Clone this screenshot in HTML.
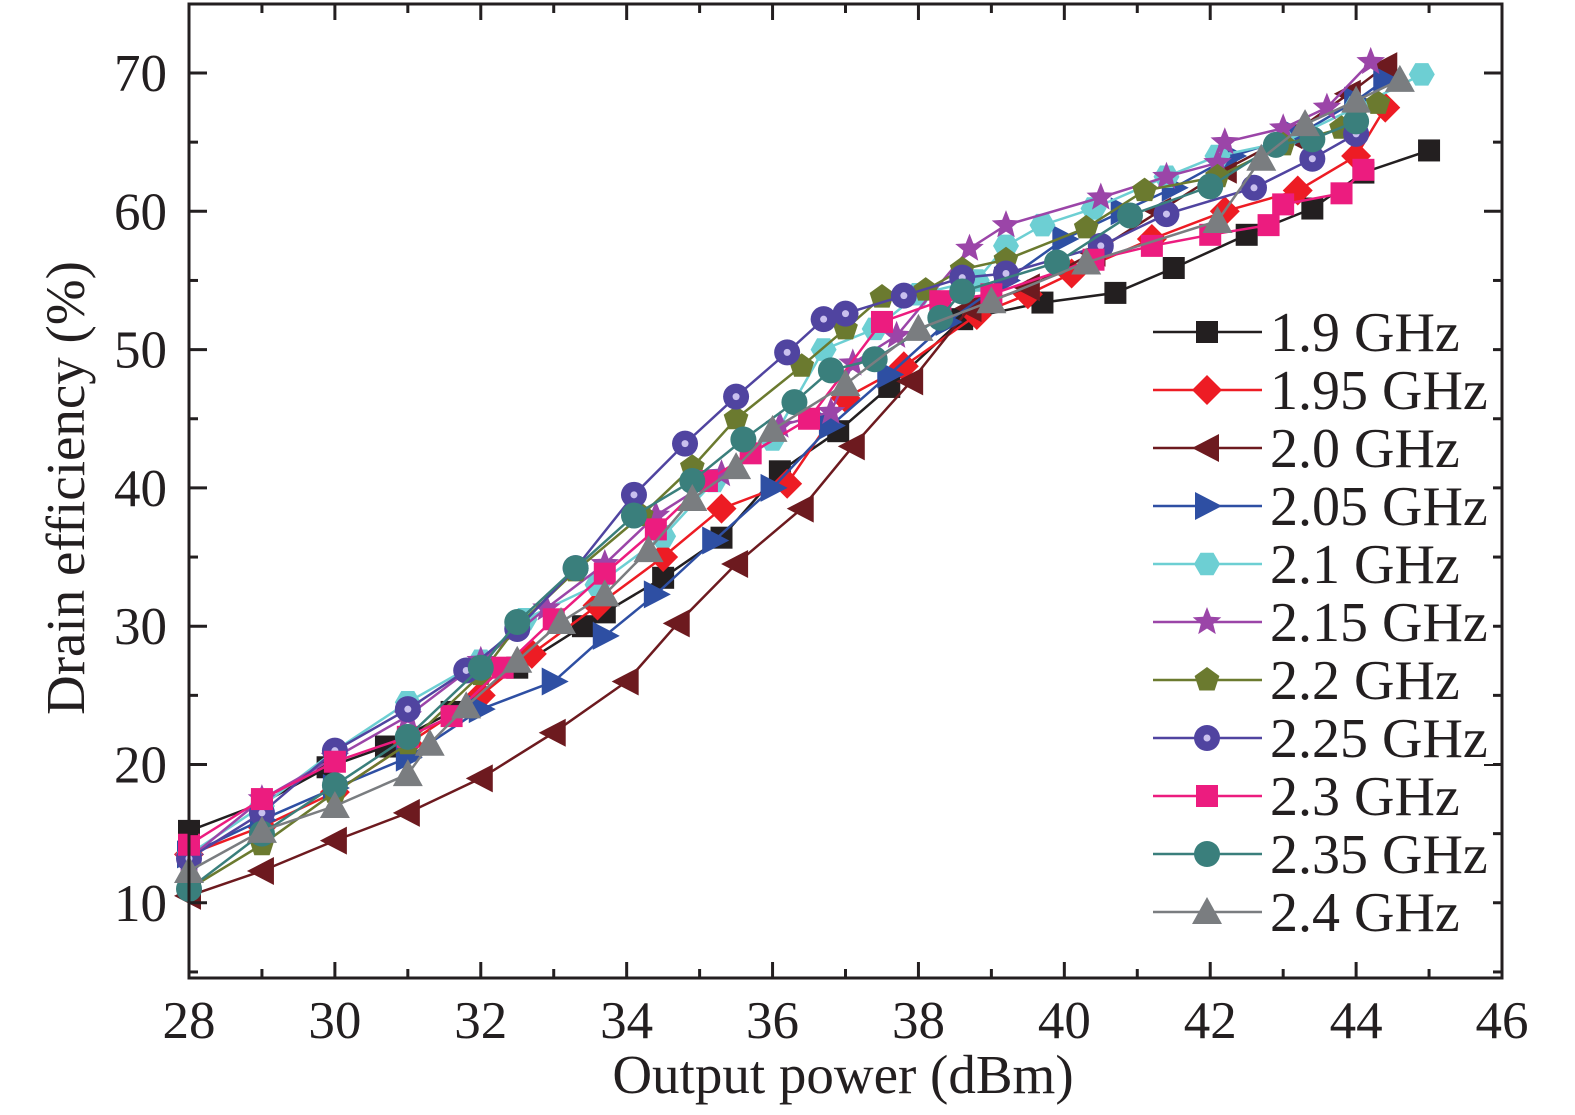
<!DOCTYPE html>
<html><head><meta charset="utf-8"><style>
html,body{margin:0;padding:0;background:#fff;}
svg{display:block;font-family:"Liberation Serif",serif;}
</style></head><body>
<svg id="chart" width="1575" height="1115" viewBox="0 0 1575 1115" xmlns="http://www.w3.org/2000/svg">
<g id="series"></g>
<g id="axes"></g>
<g id="legend"></g>
<text x="843" y="1093" font-size="55" text-anchor="middle" fill="#231f20">Output power (dBm)</text>
<text transform="translate(84,488) rotate(-90)" font-size="55" text-anchor="middle" fill="#231f20">Drain efficiency (%)</text>
</svg>
<script>
const xTicks = [28,30,32,34,36,38,40,42,44,46];
const yTicks = [10,20,30,40,50,60,70];
const seriesNames = ["1.9 GHz","1.95 GHz","2.0 GHz","2.05 GHz","2.1 GHz","2.15 GHz","2.2 GHz","2.25 GHz","2.3 GHz","2.35 GHz","2.4 GHz"];
const seriesColors = ["#231f20","#ed1c24","#6d1a1f","#2e4fa3","#6dcfd3","#9b45a8","#6b7a2f","#5044a0","#ec1c7f","#3a7f7c","#7a7d80"];
const seriesMarkers = ["square","diamond","tri-left","tri-right","hexagon","star","pentagon","sphere","square","circle","tri-up"];
const x19 = [28,29,29.9,30.7,31.6,32.5,33.4,33.7,34.5,35.3,36.1,36.9,37.6,38.6,39.7,40.7,41.5,42.5,43.4,44.1,45];
const y19 = [15.2,17.2,19.8,21.3,23.8,27,30,31,33.5,36.4,41.2,44.1,47.3,52.2,53.4,54.1,55.9,58.3,60.2,62.8,64.4];
const x195 = [28,29,30,31,32,32.7,33.6,34.5,35.3,36.2,37,37.8,38.8,39.5,40.1,41.2,42.2,43.2,44,44.4];
const y195 = [13.5,15.5,18,21.5,25,28,31.5,35,38.5,40.3,46.5,48.8,52.5,54,55.5,58,60,61.5,64,67.5];
const x20 = [28,29,30,31,32,33,34,34.7,35.5,36.4,37.1,37.9,38.7,39.5,40.4,41.3,42.2,43.1,43.9,44.4];
const y20 = [10.5,12.3,14.5,16.5,19,22.3,26,30.2,34.5,38.5,43,47.7,53,54.5,57,60,63,65.5,68.5,70.5];
const x205 = [28,29,30,31,32,33,33.7,34.4,35.2,36,36.8,37.6,38.4,39.2,40,40.8,41.5,42.3,43.2,44,44.4];
const y205 = [13.5,16,18.3,20.5,24,26,29.3,32.3,36.2,40,44.5,48.2,52,55,58,60,61.7,64,65.5,68,69.5];
const x21 = [28,29,30,31,32,32.6,33.6,34.5,35.2,36,36.7,37.4,38,38.8,39.2,39.7,40.4,41.4,42.1,43,44,44.9];
const y21 = [13.5,17,21,24.5,27.5,30.5,33,36.5,40.5,43.5,50,51.5,54,55,57.5,59,60.2,62.5,64,65,67.5,69.9];
const x215 = [28,29,30,31,32,32.9,33.7,34.4,35.3,36.1,36.8,37.1,37.7,38.7,39.2,40.5,41.4,42.1,42.2,43,43.6,44.2];
const y215 = [13.2,17.5,20.5,23.5,27.5,31.3,34.5,38,41,44.5,45.5,49,51,57.3,59,61,62.5,63.5,65,66,67.5,70.8];
const x22 = [28,29,30,31,32,32.5,33.3,34.2,34.9,35.5,36.4,37,37.5,38.1,38.6,39.2,40.3,41.1,42.1,43,43.8,44.3];
const y22 = [11,14.2,18,21.5,26.5,30,34,38,41.5,45,48.8,51.5,53.8,54.3,55.8,56.5,58.8,61.5,62.5,64.8,66,67.8];
const x225 = [28,29,30,31,31.8,32.5,33.3,34.1,34.8,35.5,36.2,36.7,37,37.8,38.6,39.2,40.5,41.4,42.6,43.4,44];
const y225 = [13.2,16.5,21,24,26.8,29.8,34.2,39.5,43.2,46.6,49.8,52.2,52.6,53.9,55.2,55.5,57.5,59.8,61.7,63.8,65.6];
const x23 = [28,29,30,31,31.6,32.3,33,33.7,34.4,35.1,35.7,36.5,37.5,38.3,39,40.4,41.2,42,42.8,43,43.8,44.1];
const y23 = [14.2,17.5,20.2,22,23.5,27,30.5,33.8,37,40.5,42.5,45,52,53.5,54,56.5,57.5,58.3,59,60.5,61.3,63];
const x235 = [28,29,30,31,32,32.5,33.3,34.1,34.9,35.6,36.3,36.8,37.4,38.3,38.6,39.9,40.9,42,42.9,43.4,44];
const y235 = [11,15,18.5,22,27,30.3,34.2,38,40.5,43.5,46.2,48.5,49.3,52.3,54.2,56.3,59.7,61.8,64.8,65.2,66.5];
const x24 = [28,29,30,31,31.3,31.8,32.5,33.1,33.7,34.3,34.9,35.5,36,37,38,39,40.3,42.1,42.7,43.3,44,44.6];
const y24 = [12.3,15.2,17,19.3,21.5,24.2,27.5,30.3,32.3,35.5,39.2,41.5,44.2,47.5,51.5,53.5,56.3,59.3,63.8,66.3,68,69.5];
const seriesX = [x19,x195,x20,x205,x21,x215,x22,x225,x23,x235,x24];
const seriesY = [y19,y195,y20,y205,y21,y215,y22,y225,y23,y235,y24];

const NS="http://www.w3.org/2000/svg";
const L=189,R=1502,T=4,B=978;
function xs(v){return L+(v-28)*(R-L)/18;}
function ys(v){return 73+(70-v)*13.83;}
function mk(tag,attrs,parent){const e=document.createElementNS(NS,tag);for(const k in attrs)e.setAttribute(k,attrs[k]);parent.appendChild(e);return e;}

function marker(type,cx,cy,color,parent){
  const s=12;let e;
  if(type==="square"){e=mk("rect",{x:cx-s+1,y:cy-s+1,width:2*s-2,height:2*s-2,fill:color},parent);}
  else if(type==="diamond"){e=mk("polygon",{points:`${cx},${cy-15} ${cx+15},${cy} ${cx},${cy+15} ${cx-15},${cy}`,fill:color},parent);}
  else if(type==="tri-left"){e=mk("polygon",{points:`${cx-15},${cy} ${cx+12},${cy-14} ${cx+12},${cy+14}`,fill:color},parent);}
  else if(type==="tri-right"){e=mk("polygon",{points:`${cx+15},${cy} ${cx-12},${cy-14} ${cx-12},${cy+14}`,fill:color},parent);}
  else if(type==="tri-up"){e=mk("polygon",{points:`${cx},${cy-15} ${cx+15},${cy+12} ${cx-15},${cy+12}`,fill:color},parent);}
  else if(type==="hexagon"||type==="pentagon"){
    const n=type==="hexagon"?6:5;let p=[];
    for(let i=0;i<n;i++){const a=(type==="hexagon"?0:-Math.PI/2)+i*2*Math.PI/n;p.push((cx+13*Math.cos(a)).toFixed(1)+","+(cy+13*Math.sin(a)).toFixed(1));}
    e=mk("polygon",{points:p.join(" "),fill:color},parent);}
  else if(type==="star"){let p=[];for(let i=0;i<10;i++){const r=i%2?6.5:15;const a=-Math.PI/2+i*Math.PI/5;p.push((cx+r*Math.cos(a)).toFixed(1)+","+(cy+r*Math.sin(a)).toFixed(1));}
    e=mk("polygon",{points:p.join(" "),fill:color},parent);}
  else if(type==="sphere"){e=mk("circle",{cx:cx,cy:cy,r:13,fill:color},parent);mk("circle",{cx:cx,cy:cy,r:3.5,fill:"#c9c0ee"},parent);}
  else {e=mk("circle",{cx:cx,cy:cy,r:13,fill:color},parent);}
  return e;
}

const sg=document.getElementById("series");
for(let s=0;s<seriesX.length;s++){
  const g=mk("g",{},sg);
  
  
  const pts=seriesX[s].map((x,i)=>xs(x).toFixed(1)+","+ys(seriesY[s][i]).toFixed(1)).join(" ");
  const pl=mk("polyline",{points:pts,fill:"none",stroke:seriesColors[s],"stroke-width":2.5},g);
  
  
  for(let i=0;i<seriesX[s].length;i++){
    const m=marker(seriesMarkers[s],xs(seriesX[s][i]),ys(seriesY[s][i]),seriesColors[s],g);
    
    
  }
}

const ag=document.getElementById("axes");
const box=mk("rect",{x:L,y:T,width:R-L,height:B-T,fill:"none",stroke:"#231f20","stroke-width":3},ag);


for(let v=28;v<=46;v++){
  const x=xs(v),len=(v%2===0)?16:9;
  mk("line",{x1:x,y1:B,x2:x,y2:B-len,stroke:"#231f20","stroke-width":3},ag);
  mk("line",{x1:x,y1:T,x2:x,y2:T+len,stroke:"#231f20","stroke-width":3},ag);
}
xTicks.forEach(v=>{
  const t=mk("text",{x:xs(v),y:1038,"font-size":53,"text-anchor":"middle",fill:"#231f20"},ag);
  t.textContent=v;
  
  
});
for(let v=5;v<=75;v+=5){
  const y=ys(v);if(y<T||y>B)continue;const len=(v%10===0)?18:9;
  mk("line",{x1:L,y1:y,x2:L+len,y2:y,stroke:"#231f20","stroke-width":3},ag);
  mk("line",{x1:R,y1:y,x2:R-len,y2:y,stroke:"#231f20","stroke-width":3},ag);
}
yTicks.forEach(v=>{
  const t=mk("text",{x:167,y:ys(v)+18,"font-size":53,"text-anchor":"end",fill:"#231f20"},ag);
  t.textContent=v;
  
  
});

const lg=document.getElementById("legend");
for(let s=0;s<seriesNames.length;s++){
  const cy=332+s*58;
  const g=mk("g",{},lg);
  
  
  mk("rect",{x:1148,y:cy-26,width:345,height:52,fill:"#fff"},g);
  mk("line",{x1:1153,y1:cy,x2:1262,y2:cy,stroke:seriesColors[s],"stroke-width":2.5},g);
  marker(seriesMarkers[s],1207,cy,seriesColors[s],g);
  const t=mk("text",{x:1270,y:cy+19,"font-size":56,fill:"#231f20"},g);
  t.textContent=seriesNames[s];
}
</script>
</body></html>
